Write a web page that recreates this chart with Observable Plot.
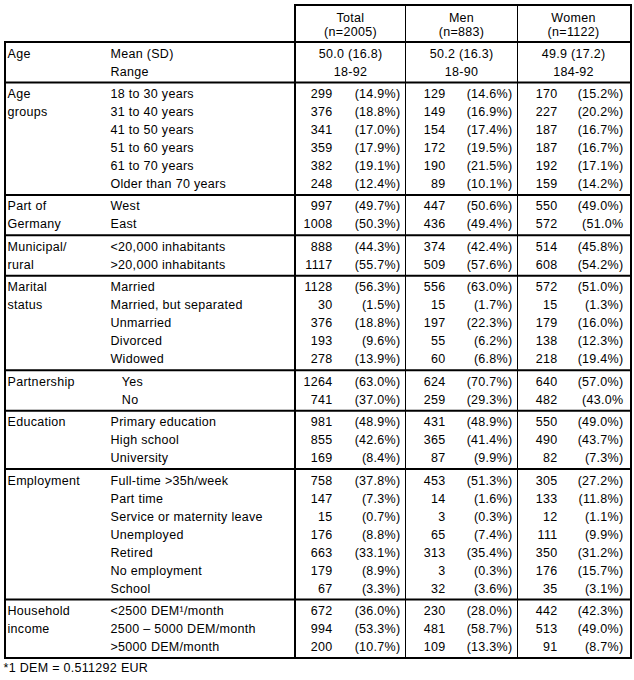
<!DOCTYPE html>
<html>
<head>
<meta charset="utf-8">
<script src="https://cdn.jsdelivr.net/npm/d3@7"></script>
<script src="https://cdn.jsdelivr.net/npm/@observablehq/plot@0.6"></script>
<style>
  html, body { margin: 0; padding: 0; background: #fff; }
  svg text { letter-spacing: 0.3px; }
</style>
</head>
<body>
<div id="chart"></div>
<script>
// ---------------- DATA ----------------
const columnTitles = ["Total", "Men", "Women"];
const columnSizes = ["(n=2005)", "(n=883)", "(n=1122)"];

const groupNames = ["Age", "Age\ngroups", "Part of\nGermany", "Municipal/\nrural", "Marital\nstatus",
  "Partnership", "Education", "Employment", "Household\nincome"];
const groupSizes = [2, 6, 2, 2, 5, 2, 3, 7, 3];

const itemLabels = [
  "Mean (SD)", "Range",
  "18 to 30 years", "31 to 40 years", "41 to 50 years", "51 to 60 years", "61 to 70 years", "Older than 70 years",
  "West", "East",
  "<20,000 inhabitants", ">20,000 inhabitants",
  "Married", "Married, but separated", "Unmarried", "Divorced", "Widowed",
  "\u00a0\u00a0\u00a0Yes", "\u00a0\u00a0\u00a0No",
  "Primary education", "High school", "University",
  "Full-time >35h/week", "Part time", "Service or maternity leave", "Unemployed", "Retired", "No employment", "School",
  "<2500 DEM\u00b9/month", "2500 \u2013 5000 DEM/month", ">5000 DEM/month"
];

// Age summary rows (Mean (SD), Range)
const ageSummaryTotal = ["50.0 (16.8)", "18-92"];
const ageSummaryMen = ["50.2 (16.3)", "18-90"];
const ageSummaryWomen = ["49.9 (17.2)", "184-92"];

// Count rows (from "18 to 30 years" down to ">5000 DEM/month")
const countsTotal = [299, 376, 341, 359, 382, 248, 997, 1008, 888, 1117, 1128, 30, 376, 193, 278,
  1264, 741, 981, 855, 169, 758, 147, 15, 176, 663, 179, 67, 672, 994, 200];
const pctTotal = ["(14.9%)", "(18.8%)", "(17.0%)", "(17.9%)", "(19.1%)", "(12.4%)", "(49.7%)", "(50.3%)",
  "(44.3%)", "(55.7%)", "(56.3%)", "(1.5%)", "(18.8%)", "(9.6%)", "(13.9%)", "(63.0%)", "(37.0%)",
  "(48.9%)", "(42.6%)", "(8.4%)", "(37.8%)", "(7.3%)", "(0.7%)", "(8.8%)", "(33.1%)", "(8.9%)", "(3.3%)",
  "(36.0%)", "(53.3%)", "(10.7%)"];
const countsMen = [129, 149, 154, 172, 190, 89, 447, 436, 374, 509, 556, 15, 197, 55, 60,
  624, 259, 431, 365, 87, 453, 14, 3, 65, 313, 3, 32, 230, 481, 109];
const pctMen = ["(14.6%)", "(16.9%)", "(17.4%)", "(19.5%)", "(21.5%)", "(10.1%)", "(50.6%)", "(49.4%)",
  "(42.4%)", "(57.6%)", "(63.0%)", "(1.7%)", "(22.3%)", "(6.2%)", "(6.8%)", "(70.7%)", "(29.3%)",
  "(48.9%)", "(41.4%)", "(9.9%)", "(51.3%)", "(1.6%)", "(0.3%)", "(7.4%)", "(35.4%)", "(0.3%)", "(3.6%)",
  "(28.0%)", "(58.7%)", "(13.3%)"];
const countsWomen = [170, 227, 187, 187, 192, 159, 550, 572, 514, 608, 572, 15, 179, 138, 218,
  640, 482, 550, 490, 82, 305, 133, 12, 111, 350, 176, 35, 442, 513, 91];
const pctWomen = ["(15.2%)", "(20.2%)", "(16.7%)", "(16.7%)", "(17.1%)", "(14.2%)", "(49.0%)", "(51.0%",
  "(45.8%)", "(54.2%)", "(51.0%)", "(1.3%)", "(16.0%)", "(12.3%)", "(19.4%)", "(57.0%)", "(43.0%",
  "(49.0%)", "(43.7%)", "(7.3%)", "(27.2%)", "(11.8%)", "(1.1%)", "(9.9%)", "(31.2%)", "(15.7%)", "(3.1%)",
  "(42.3%)", "(49.0%)", "(8.7%)"];

const footnote = "*1 DEM = 0.511292 EUR";

// ---------------- LAYOUT ----------------
const W = 634, H = 680;
const tableLeft = 5, tableRight = 631;
const colEdges = [295, 405, 517, 631];
const groupLabelX = 7, itemLabelX = 110;
const countRight = [332, 445, 557];
const pctRight = [400, 512, 623];
const colCenter = [350, 461, 573];
const headerTop = 5, headerLineY = [17, 31], bodyTop = 42;
const rowPitch = 18, groupPad = 11;
const footnoteX = 3, footnoteY = 667;

const seriesCounts = [countsTotal, countsMen, countsWomen];
const seriesPct = [pctTotal, pctMen, pctWomen];
const ageSummary = [ageSummaryTotal, ageSummaryMen, ageSummaryWomen];

const rows = [];
const groupLines = [bodyTop];
{
  let yLine = bodyTop, idx = 0;
  const extra = (680 - 22 - bodyTop - groupSizes.reduce((a, b) => a + b, 0) * rowPitch) / groupSizes.length;
  groupSizes.forEach((n, g) => {
    const lines = groupNames[g].split("\n");
    for (let j = 0; j < n; j++) {
      rows.push({idx, g, j, y: yLine + groupPad + j * rowPitch, item: itemLabels[idx], groupLine: lines[j] ?? ""});
      idx++;
    }
    yLine = yLine + n * rowPitch + extra;
    groupLines.push(yLine);
  });
}
const bodyBottom = groupLines[groupLines.length - 1];

const cells = [];
rows.forEach(r => {
  for (let c = 0; c < 3; c++) {
    if (r.idx < 2) {
      cells.push({x: colCenter[c], y: r.y, text: ageSummary[c][r.idx], anchor: "middle"});
    } else {
      const k = r.idx - 2;
      cells.push({x: countRight[c], y: r.y, text: String(seriesCounts[c][k]), anchor: "end"});
      cells.push({x: pctRight[c], y: r.y, text: seriesPct[c][k], anchor: "end"});
    }
  }
});
const headerCells = [];
for (let c = 0; c < 3; c++) {
  headerCells.push({x: colCenter[c], y: headerLineY[0], text: columnTitles[c]});
  headerCells.push({x: colCenter[c], y: headerLineY[1], text: columnSizes[c]});
}

const FONT = "Arial, 'Liberation Sans', sans-serif";
const FS = 12.5;
const textOpts = {fontFamily: FONT, fontSize: FS, fill: "#000"};

const chart = Plot.plot({
  width: W, height: H, margin: 0,
  x: {type: "identity", axis: null},
  y: {type: "identity", axis: null},
  style: {fontFamily: FONT, fontSize: FS + "px", background: "#fff", color: "#000"},
  marks: [
    // horizontal group borders (thick)
    Plot.ruleY(groupLines, {y: d => d - 0.5, x1: () => tableLeft - 1, x2: () => tableRight + 1, stroke: "#000", strokeWidth: 2}),
    // header top border
    Plot.ruleY([headerTop], {y: d => d - 0.5, x1: () => colEdges[0] - 1, x2: () => tableRight + 1, stroke: "#000", strokeWidth: 2}),
    // left outer border
    Plot.ruleX([tableLeft], {x: d => d - 0.5, y1: () => bodyTop - 1, y2: () => bodyBottom + 1, stroke: "#000", strokeWidth: 2}),
    // thick column borders
    Plot.ruleX([colEdges[0], colEdges[3]], {x: d => d - 0.5, y1: () => headerTop - 1, y2: () => bodyBottom + 1, stroke: "#000", strokeWidth: 2}),
    // thin column separators
    Plot.ruleX([colEdges[1], colEdges[2]], {x: d => d, y1: () => headerTop, y2: () => bodyBottom, stroke: "#000", strokeWidth: 1}),
    // header texts
    Plot.text(headerCells, {x: "x", y: "y", text: "text", textAnchor: "middle", ...textOpts}),
    // group labels
    Plot.text(rows.filter(r => r.groupLine), {x: () => groupLabelX, y: "y", text: "groupLine", textAnchor: "start", ...textOpts}),
    // item labels
    Plot.text(rows, {x: () => itemLabelX, y: "y", text: "item", textAnchor: "start", ...textOpts}),
    // values
    Plot.text(cells.filter(d => d.anchor === "middle"), {x: "x", y: "y", text: "text", textAnchor: "middle", ...textOpts}),
    Plot.text(cells.filter(d => d.anchor === "end"), {x: "x", y: "y", text: "text", textAnchor: "end", ...textOpts}),
    // footnote
    Plot.text([footnote], {x: () => footnoteX, y: () => footnoteY, text: d => d, textAnchor: "start", ...textOpts})
  ]
});
document.getElementById("chart").appendChild(chart);
</script>
</body>
</html>
